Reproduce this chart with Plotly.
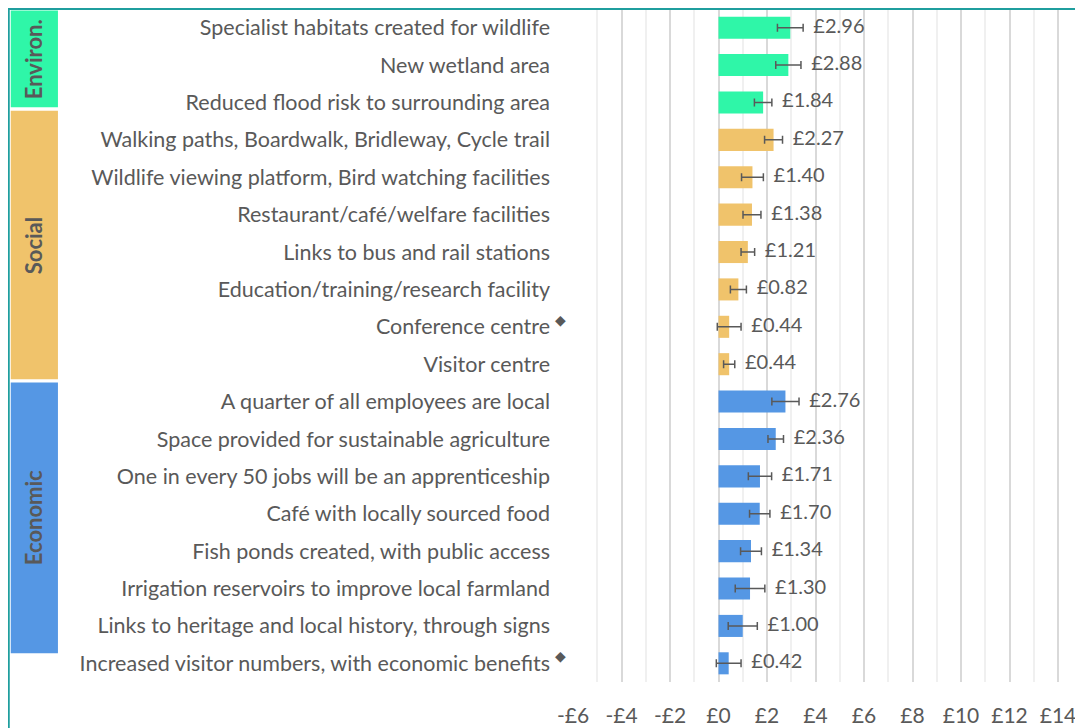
import plotly.graph_objects as go

# values (willingness to pay, £)
labels = [
    "Specialist habitats created for wildlife",
    "New wetland area",
    "Reduced flood risk to surrounding area",
    "Walking paths, Boardwalk, Bridleway, Cycle trail",
    "Wildlife viewing platform, Bird watching facilities",
    "Restaurant/café/welfare facilities",
    "Links to bus and rail stations",
    "Education/training/research facility",
    "Conference centre",
    "Visitor centre",
    "A quarter of all employees are local",
    "Space provided for sustainable agriculture",
    "One in every 50 jobs will be an apprenticeship",
    "Café with locally sourced food",
    "Fish ponds created, with public access",
    "Irrigation reservoirs to improve local farmland",
    "Links to heritage and local history, through signs",
    "Increased visitor numbers, with economic benefits",
]
values = [2.96, 2.88, 1.84, 2.27, 1.40, 1.38, 1.21, 0.82, 0.44, 0.44,
          2.76, 2.36, 1.71, 1.70, 1.34, 1.30, 1.00, 0.42]
errors = [0.53, 0.52, 0.36, 0.37, 0.45, 0.37, 0.28, 0.33, 0.49, 0.23,
          0.56, 0.32, 0.48, 0.42, 0.43, 0.61, 0.60, 0.51]
groups = ["Environ."] * 3 + ["Social"] * 7 + ["Economic"] * 8
flagged = ["Conference centre",
           "Increased visitor numbers, with economic benefits"]

tick_vals = [-6, -4, -2, 0, 2, 4, 6, 8, 10, 12, 14]
tick_text = ["-£6", "-£4", "-£2", "£0", "£2", "£4", "£6", "£8", "£10", "£12", "£14"]

COLORS = {"Environ.": "#2FF6A8", "Social": "#F0C36B", "Economic": "#5597E4"}
TEXT = "#595959"
FONT = "Lato"

# band extents on the category axis (index units), hand-placed like the original
BANDS = {"Environ.": (-0.46, 2.13), "Social": (2.22, 9.40), "Economic": (9.49, 16.73)}

fig = go.Figure()

for g in ["Environ.", "Social", "Economic"]:
    idx = [i for i, gg in enumerate(groups) if gg == g]
    fig.add_trace(go.Bar(
        y=[labels[i] for i in idx], x=[values[i] for i in idx],
        orientation="h", marker_color=COLORS[g], marker_line_width=0,
        error_x=dict(type="data", array=[errors[i] for i in idx],
                     color=TEXT, thickness=1.5, width=4),
        showlegend=False, hoverinfo="skip"))

fig.add_trace(go.Scatter(
    y=labels, x=[v + e for v, e in zip(values, errors)], mode="text",
    text=["  £%.2f" % v for v in values], textposition="middle right",
    textfont=dict(family=FONT, size=20, color=TEXT),
    showlegend=False, hoverinfo="skip"))

# left-hand group bands
for g, (y0, y1) in BANDS.items():
    fig.add_shape(type="rect", xref="paper", yref="y",
                  x0=-1.12, x1=-1.026, y0=y0, y1=y1,
                  fillcolor=COLORS[g], line_width=0, layer="below")
    fig.add_annotation(xref="paper", yref="y", x=-1.073, y=(y0 + y1) / 2,
                       xanchor="center", yanchor="middle",
                       text="<b>%s</b>" % g, textangle=-90, showarrow=False,
                       font=dict(family=FONT, size=22, color=TEXT))

for lab in flagged:
    fig.add_annotation(xref="paper", yref="y", x=-0.024, y=lab, yshift=7,
                       xanchor="center", yanchor="middle",
                       text="◆", showarrow=False,
                       font=dict(family="DejaVu Sans", size=14, color=TEXT))

# outer frame (clipped on the right and bottom as in the source image)
fig.add_shape(type="rect", xref="paper", yref="paper",
              x0=-1.124, x1=1.2, y0=-0.3, y1=1.0,
              line=dict(color="#1F9E9E", width=2))

fig.update_layout(
    width=1067, height=720,
    margin=dict(l=565, r=0, t=1, b=46),
    plot_bgcolor="white", paper_bgcolor="white",
    bargap=0.41, barmode="overlay",
    font=dict(family=FONT, color=TEXT),
)
fig.update_xaxes(
    range=[-6, 14.70], tickvals=tick_vals, ticktext=tick_text,
    tickfont=dict(size=21, color=TEXT), showgrid=True, gridcolor="#D9D9D9",
    gridwidth=1.5, minor=dict(dtick=1, showgrid=True, gridcolor="#F0F0F0"),
    zeroline=False, showline=False, ticks="", ticklabelstandoff=19,
    ticklabeloverflow="allow")
fig.update_yaxes(
    type="category", categoryorder="array", categoryarray=labels,
    range=[17.5, -0.5], tickfont=dict(size=21.5, color=TEXT),
    showgrid=False, zeroline=False, showline=False, ticks="",
    ticklabelstandoff=22)

fig.write_html("out.html")
